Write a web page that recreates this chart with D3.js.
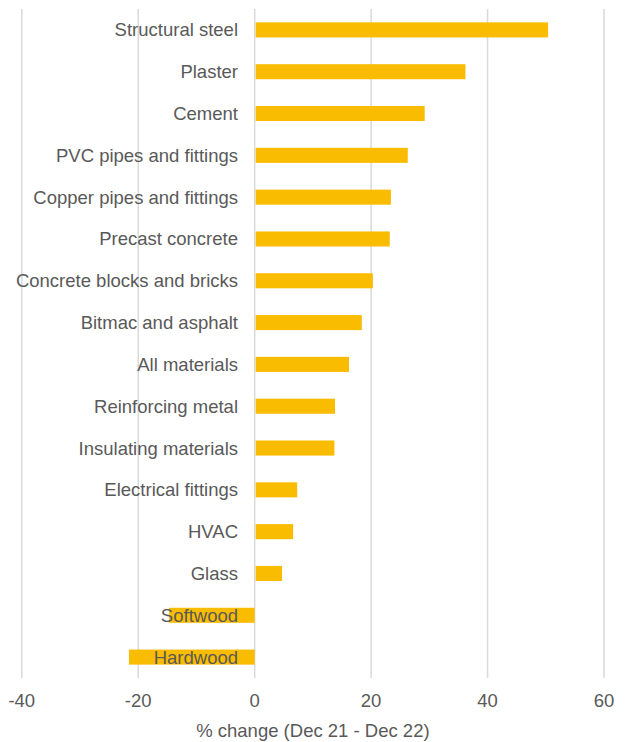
<!DOCTYPE html>
<html>
<head>
<meta charset="utf-8">
<script src="https://cdn.jsdelivr.net/npm/d3@7"></script>
<style>
    body { margin: 0; background: #fff; }
    text { font-family: "Liberation Sans", Arial, sans-serif; fill: #595959; }
</style>
</head>
<body>
<div id="chart"></div>
<script>
var categories = ["Structural steel", "Plaster", "Cement", "PVC pipes and fittings",
    "Copper pipes and fittings", "Precast concrete", "Concrete blocks and bricks",
    "Bitmac and asphalt", "All materials", "Reinforcing metal", "Insulating materials",
    "Electrical fittings", "HVAC", "Glass", "Softwood", "Hardwood"];
var values = [50.4, 36.2, 29.2, 26.3, 23.4, 23.2, 20.3, 18.4, 16.2, 13.8, 13.7, 7.3, 6.6, 4.7, -14.7, -21.6];
var xTicks = [-40, -20, 0, 20, 40, 60];
var xTitle = "% change (Dec 21 - Dec 22)";

function init() {
    var width = 629;
    var height = 742;
    var left = 21.8, right = 604, top = 9, bottom = 678;
    var fontSize = "18.5px";

    var svg = d3.select("#chart")
        .append("svg")
        .attr("width", width)
        .attr("height", height);

    var x = d3.scaleLinear()
        .domain([-40, 60])
        .range([left, right]);

    var y = d3.scaleBand()
        .domain(categories)
        .range([top, bottom])
        .paddingInner(0.64)
        .paddingOuter(0.32);

    // vertical gridlines
    svg.selectAll("line.grid")
        .data(xTicks)
        .enter()
        .append("line")
        .attr("class", "grid")
        .attr("x1", d => x(d))
        .attr("x2", d => x(d))
        .attr("y1", top)
        .attr("y2", bottom)
        .attr("stroke", "#d9d9d9")
        .attr("stroke-width", 1.5);

    // bars
    svg.selectAll("rect")
        .data(values)
        .enter()
        .append("rect")
        .attr("x", d => x(Math.min(0, d)) + (d > 0 ? 1 : 0))
        .attr("width", d => Math.abs(x(d) - x(0)) - (d > 0 ? 1 : 0))
        .attr("y", (d, i) => y(categories[i]))
        .attr("height", y.bandwidth())
        .attr("fill", "#f9bc00");

    // category labels (drawn over bars)
    svg.selectAll("text.cat")
        .data(categories)
        .enter()
        .append("text")
        .attr("class", "cat")
        .attr("x", 238)
        .attr("y", d => y(d) + y.bandwidth() / 2)
        .attr("dy", "0.35em")
        .attr("text-anchor", "end")
        .style("font-size", fontSize)
        .text(d => d);

    // x tick labels
    svg.selectAll("text.tick")
        .data(xTicks)
        .enter()
        .append("text")
        .attr("class", "tick")
        .attr("x", d => x(d))
        .attr("y", 701)
        .attr("dy", "0.35em")
        .attr("text-anchor", "middle")
        .style("font-size", fontSize)
        .text(d => d);

    svg.append("text")
        .attr("x", (left + right) / 2)
        .attr("y", 731)
        .attr("dy", "0.35em")
        .attr("text-anchor", "middle")
        .style("font-size", fontSize)
        .text(xTitle);
}

window.onload = init;
</script>
</body>
</html>
